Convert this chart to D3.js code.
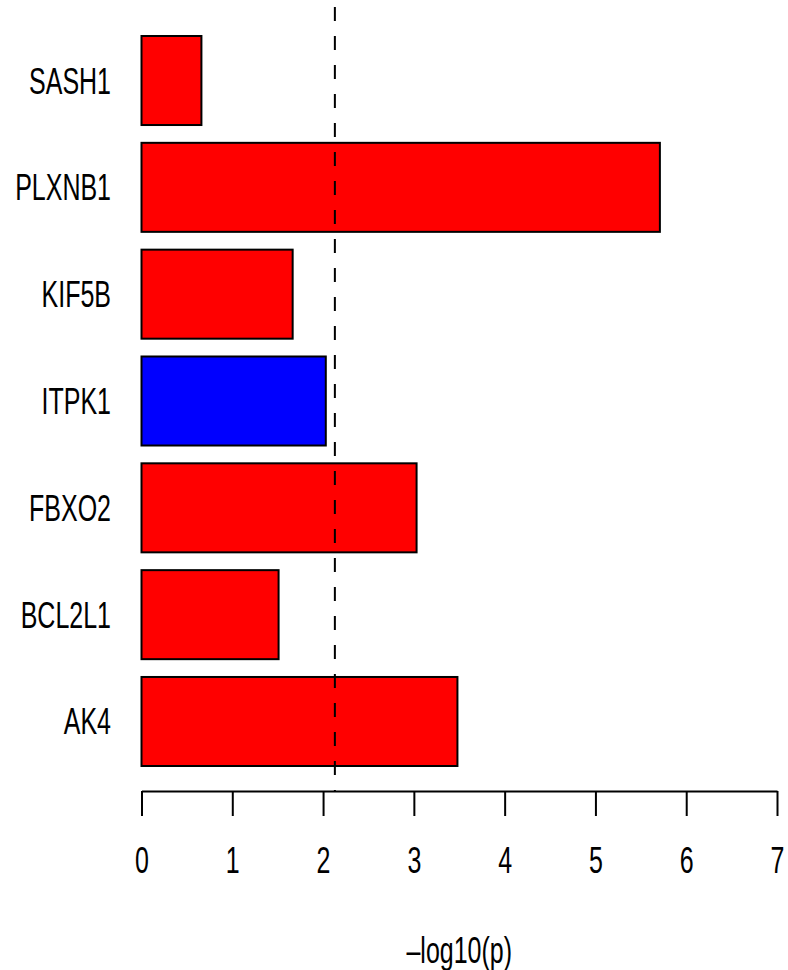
<!DOCTYPE html>
<html>
<head>
<meta charset="utf-8">
<script src="https://cdn.jsdelivr.net/npm/d3@7"></script>
<style>
  html, body { margin: 0; padding: 0; background: #fff; }
  svg { display: block; }
  text { font-family: "Liberation Sans", Arial, Helvetica, sans-serif; fill: #000; }
</style>
</head>
<body>
<svg id="chart" width="788" height="970"></svg>
<script>
// Gene-level association results, top to bottom
const genes = ["SASH1", "PLXNB1", "KIF5B", "ITPK1", "FBXO2", "BCL2L1", "AK4"];
const negLogP = [0.66, 5.71, 1.665, 2.03, 3.03, 1.51, 3.48];
const direction = ["up", "up", "up", "down", "up", "up", "up"];
const threshold = 2.13;
const xTicks = [0, 1, 2, 3, 4, 5, 6, 7];
const xTitle = "\u2013log10(p)";

const fillFor = { up: "#ff0000", down: "#0000ff" };
const fontSize = 25;
const stretchY = 1.45;

const svg = d3.select("#chart");

const x = d3.scaleLinear().domain([0, 7]).range([141.5, 777]);
const y = d3.scaleBand().domain(genes).range([36, 766]).paddingInner(0.1667).paddingOuter(0);

const rows = genes.map((g, i) => ({ gene: g, value: negLogP[i], dir: direction[i] }));

// bars
svg.append("g").selectAll("rect")
  .data(rows)
  .join("rect")
  .attr("x", x(0))
  .attr("y", d => y(d.gene))
  .attr("width", d => x(d.value) - x(0))
  .attr("height", y.bandwidth())
  .attr("fill", d => fillFor[d.dir])
  .attr("stroke", "#000")
  .attr("stroke-width", 2);

// gene labels
svg.append("g").selectAll("text")
  .data(rows)
  .join("text")
  .attr("text-anchor", "end")
  .attr("font-size", fontSize)
  .attr("transform", d => `translate(111,${y(d.gene) + y.bandwidth() / 2 + 13}) scale(1,${stretchY})`)
  .text(d => d.gene);

// significance threshold
svg.append("line")
  .attr("x1", x(threshold)).attr("x2", x(threshold))
  .attr("y1", 7).attr("y2", 791)
  .attr("stroke", "#000")
  .attr("stroke-width", 2)
  .attr("stroke-dasharray", "14,15");

// x axis
const axis = d3.axisBottom(x)
  .tickValues(xTicks)
  .tickFormat(d3.format("d"))
  .tickSize(25)
  .tickSizeOuter(0);

const gx = svg.append("g")
  .attr("transform", "translate(0,791)")
  .call(axis);

gx.select(".domain").attr("stroke", "#000").attr("stroke-width", 2);
gx.selectAll(".tick line").attr("stroke", "#000").attr("stroke-width", 2);
gx.selectAll(".tick text")
  .attr("y", null)
  .attr("dy", null)
  .attr("font-size", fontSize)
  .attr("font-family", "Liberation Sans, Arial, sans-serif")
  .attr("fill", "#000")
  .attr("transform", `translate(0,82) scale(1,${stretchY})`);

// axis title
svg.append("text")
  .attr("text-anchor", "middle")
  .attr("font-size", fontSize)
  .attr("transform", `translate(${(x(0) + x(7)) / 2},963) scale(1,${stretchY})`)
  .text(xTitle);
</script>
</body>
</html>
